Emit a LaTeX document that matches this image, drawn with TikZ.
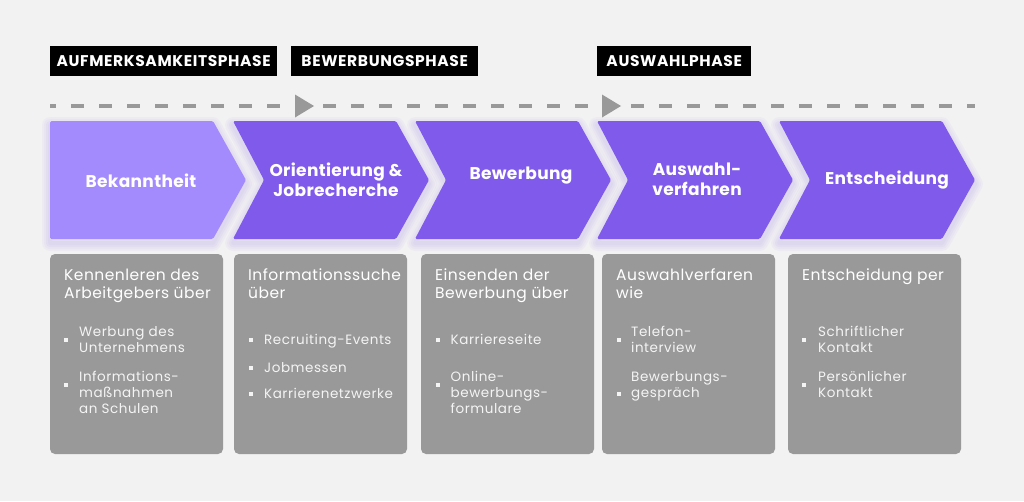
\documentclass[tikz,border=0pt]{standalone}
\usepackage{fontspec}
\setmainfont{Poppins}
\definecolor{bgc}{HTML}{F2F2F2}
\definecolor{cardc}{HTML}{999999}
\definecolor{chevA}{HTML}{A48BFD}
\definecolor{chevB}{HTML}{7F5AEB}
\definecolor{bulc}{HTML}{F4F4F4}
\tikzset{
 glow/.style={draw=chevB, line join=round, draw opacity=0.045, line width=#1},
 chevshape/.style={rounded corners=1.5pt},
 chevlab/.style={text=white, font=\bfseries\fontsize{17}{20}\selectfont\addfontfeature{LetterSpace=2}, align=center, inner sep=0pt},
 phase/.style={fill=black, text=white, font=\bfseries\fontsize{15.5}{17}\selectfont\addfontfeature{LetterSpace=4}, inner sep=0pt, anchor=north west, minimum height=30pt},
 card/.style={fill=cardc, rounded corners=5pt},
 head/.style={text=white, font=\fontsize{15.5}{18}\selectfont\addfontfeature{LetterSpace=3}, anchor=base west, inner sep=0pt},
 btxt/.style={text=bulc, font=\fontsize{13.5}{16}\selectfont\addfontfeature{LetterSpace=4}, anchor=base west, inner sep=0pt},
 bul/.style={fill=bulc, minimum size=4pt, inner sep=0pt},
 tri/.style={fill=cardc},
}
\newcommand\chevA{(50,121) -- (213,121) -- (246,180) -- (213,239) -- (50,239) -- cycle}
\newcommand\chevN[1]{(#1,121) -- (#1+163,121) -- (#1+196,180) -- (#1+163,239) -- (#1,239) -- (#1+31,180) -- cycle}
\begin{document}
\begin{tikzpicture}[x=1pt,y=-1pt]
\useasboundingbox (0,0) rectangle (1024,501);
\fill[bgc] (0,0) rectangle (1024,501);

% phase labels
\node[phase, minimum width=227pt] (p1) at (50,46) {AUFMERKSAMKEITSPHASE};
\node[phase, minimum width=187pt] (p2) at (291,46) {BEWERBUNGSPHASE};
\node[phase, minimum width=154pt] (p3) at (597,46) {AUSWAHLPHASE};

% dashed timeline
\coordinate (ls) at (50,106);
\coordinate (le) at (975,106);
\draw[cardc, line width=4.5pt, dash pattern=on 12.5pt off 15.5pt, dash phase=7pt] (ls) -- (le);
\fill[tri] (295,94.5) -- (314,106) -- (295,117.5) -- cycle;
\fill[tri] (602,94.5) -- (621,106) -- (602,117.5) -- cycle;

% glow under chevrons
\begin{scope}[yshift=-4pt]
\foreach \w in {16,12,8,4}{
  \path[glow=\w pt] \chevA;
  \foreach \L in {233,415,597,779}{ \path[glow=\w pt] \chevN{\L}; }
}
\end{scope}

% chevrons
\path[chevshape, fill=chevA] \chevA;
\foreach \L in {233,415,597,779}{
  \path[chevshape, fill=chevB] \chevN{\L};
}
\node[chevlab] (c1) at (141,181) {Bekanntheit};
\node[chevlab] (c2) at (336,180) {Orientierung \&\\Jobrecherche};
\node[chevlab] (c3) at (521,176) {Bewerbung};
\node[chevlab] (c4) at (697,179) {Auswahl-\\verfahren};
\node[chevlab] (c5) at (887,180) {Entscheidung};

% cards
\fill[card] (50,254) rectangle (223,454);
\fill[card] (234,254) rectangle (407,454);
\fill[card] (421,254) rectangle (594,454);
\fill[card] (602,254) rectangle (775,454);
\fill[card] (788,254) rectangle (961,454);

% card 1
\node[head] (h11) at (64,280) {Kennenleren des};
\node[head] (h12) at (64,298) {Arbeitgebers über};
\node[bul] (b11) at (65.5,340) {};
\node[btxt] (t11) at (79,336) {Werbung des};
\node[btxt] (t12) at (79,352) {Unternehmens};
\node[bul] (b12) at (65.5,385) {};
\node[btxt] (t13) at (79,381) {Informations-};
\node[btxt] (t14) at (79,397) {maßnahmen};
\node[btxt] (t15) at (79,413) {an Schulen};

% card 2
\node[head] (h21) at (248,280) {Informationssuche};
\node[head] (h22) at (248,298) {über};
\node[bul] (b21) at (250.5,340) {};
\node[btxt] (t21) at (264,344) {Recruiting-Events};
\node[bul] (b22) at (250.5,368) {};
\node[btxt] (t22) at (264,372) {Jobmessen};
\node[bul] (b23) at (250.5,394) {};
\node[btxt] (t23) at (264,398) {Karrierenetzwerke};

% card 3
\node[head] (h31) at (435,280) {Einsenden der};
\node[head] (h32) at (435,298) {Bewerbung über};
\node[bul] (b31) at (437.5,340) {};
\node[btxt] (t31) at (450.5,344) {Karriereseite};
\node[bul] (b32) at (437.5,385) {};
\node[btxt] (t32) at (450.5,381) {Online-};
\node[btxt] (t33) at (450.5,397) {bewerbungs-};
\node[btxt] (t34) at (450.5,413) {formulare};

% card 4
\node[head] (h41) at (616,280) {Auswahlverfaren};
\node[head] (h42) at (616,298) {wie};
\node[bul] (b41) at (618.5,340) {};
\node[btxt] (t41) at (631,336) {Telefon-};
\node[btxt] (t42) at (631,352) {interview};
\node[bul] (b42) at (618.5,394) {};
\node[btxt] (t43) at (631,381) {Bewerbungs-};
\node[btxt] (t44) at (631,397) {gespräch};

% card 5
\node[head] (h51) at (802,280) {Entscheidung per};
\node[bul] (b51) at (804,340) {};
\node[btxt] (t51) at (818,336) {Schriftlicher};
\node[btxt] (t52) at (818,352) {Kontakt};
\node[bul] (b52) at (804,385) {};
\node[btxt] (t53) at (818,381) {Persönlicher};
\node[btxt] (t54) at (818,397) {Kontakt};
\end{tikzpicture}
\end{document}
